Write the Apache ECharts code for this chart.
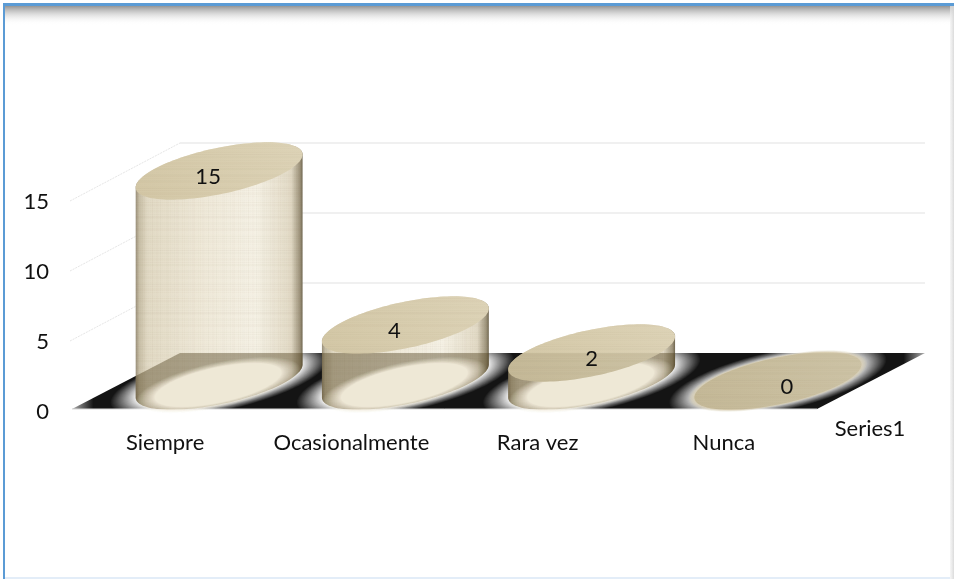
<!DOCTYPE html>
<html><head><meta charset="utf-8">
<style>html,body{margin:0;padding:0;background:#fff}#c{width:954px;height:579px}</style>
<script src="https://cdn.jsdelivr.net/npm/echarts@6/dist/echarts.min.js"></script>
</head><body><div id="c"></div>
<script>
const categories = ['Siempre', 'Ocasionalmente', 'Rara vez', 'Nunca'];
const values = [15, 4, 2, 0];
const yTicks = [0, 5, 10, 15];
const depthLabel = 'Series1';
const labelShift = [-11, -11, 0, 9];

const FONT = 'Lato, Carlito, "Open Sans", sans-serif';
const DEPTH_X = 108, DEPTH_Y = -56, DISC_RATIO = 0.448, DISC_TIP = 16.5, DISC_H = 23.5, FONT_SIZE = 22;

function grainCanvas(vertical) {
  const c = document.createElement('canvas');
  c.width = 96; c.height = 96;
  const g = c.getContext('2d');
  for (let i = 0; i < 96; i += 2) {
    const a = 0.022 + 0.022 * Math.sin(i * 0.73) * Math.sin(i * 0.19);
    g.fillStyle = 'rgba(120,100,60,' + Math.abs(a).toFixed(3) + ')';
    g.fillRect(0, i, 96, 1 + (i % 3 === 0 ? 1 : 0));
    if (vertical) {
      const b = 0.015 + 0.02 * Math.sin(i * 1.1) * Math.sin(i * 0.31);
      g.fillStyle = 'rgba(110,95,60,' + Math.abs(b).toFixed(3) + ')';
      g.fillRect(i, 0, 1 + (i % 5 === 0 ? 1 : 0), 96);
    }
  }
  return c;
}
const weave = grainCanvas(true), grain = grainCanvas(false);

function discPoint(cx, cy, rx, k, s) {
  return [cx + k * rx * Math.cos(s), cy - k * (DISC_TIP * Math.cos(s) + DISC_H * Math.sin(s))];
}
function ellipsePts(cx, cy, rx, k) {
  const pts = [];
  for (let i = 0; i < 120; i++) pts.push(discPoint(cx, cy, rx, k, i / 120 * Math.PI * 2));
  return pts;
}
function silhouette(cx, top, bottom, rx) {
  const pts = [];
  for (let i = 0; i <= 60; i++) pts.push(discPoint(cx, top, rx, 1, i / 60 * Math.PI));
  for (let i = 0; i <= 60; i++) pts.push(discPoint(cx, bottom, rx, 1, Math.PI + i / 60 * Math.PI));
  return pts;
}
function clipConvex(subject, clip) {
  let out = subject;
  for (let i = 0; i < clip.length && out.length; i++) {
    const a = clip[i], b = clip[(i + 1) % clip.length], input = out;
    const side = p => (b[0] - a[0]) * (p[1] - a[1]) - (b[1] - a[1]) * (p[0] - a[0]);
    out = [];
    for (let j = 0; j < input.length; j++) {
      const p = input[j], q = input[(j + 1) % input.length], sp = side(p), sq = side(q);
      if (sp >= 0) out.push(p);
      if ((sp >= 0) !== (sq >= 0)) {
        const u = sp / (sp - sq);
        out.push([p[0] + u * (q[0] - p[0]), p[1] + u * (q[1] - p[1])]);
      }
    }
  }
  return out;
}
function floorOf(params, api) {
  const cs = params.coordSys, y0 = api.coord([0, 0])[1];
  return [[cs.x + DEPTH_X, y0 + DEPTH_Y], [cs.x + cs.width + DEPTH_X, y0 + DEPTH_Y],
          [cs.x + cs.width, y0], [cs.x, y0]];
}
const poly = (pts, style) => ({ type: 'polygon', shape: { points: pts }, style, silent: true });
// Soft-edged disc: nested layers whose opacities add up to an even ramp from kOuter to kInner.
function softDisc(cx, cy, rx, kOuter, kInner, rgb, steps) {
  const out = [];
  for (let j = 0; j <= steps; j++) {
    const k = kOuter + (kInner - kOuter) * j / steps;
    out.push(poly(ellipsePts(cx, cy, rx, k), { fill: 'rgba(' + rgb + ',' + (1 / (steps - j + 1)).toFixed(3) + ')' }));
  }
  return out;
}

function renderStage(params, api) {
  const cs = params.coordSys, children = [], y0 = api.coord([0, 0])[1];
  yTicks.slice(1).forEach(t => {
    const y = api.coord([0, t])[1];
    children.push({ type: 'line', silent: true,
      shape: { x1: cs.x - 2, y1: y + 2, x2: cs.x + DEPTH_X, y2: y + DEPTH_Y },
      style: { stroke: '#e6e6e6', lineWidth: 1, lineDash: [2, 1] } });
    children.push({ type: 'line', silent: true,
      shape: { x1: cs.x + DEPTH_X, y1: y + DEPTH_Y, x2: cs.x + cs.width + DEPTH_X, y2: y + DEPTH_Y },
      style: { stroke: '#f0f0f0', lineWidth: 2 } });
  });
  const f = floorOf(params, api);
  children.push(poly(f, { fill: { type: 'linear', x: 0, y: 0, x2: 1, y2: 0, colorStops: [
    { offset: 0, color: '#b0b0b0' }, { offset: 0.025, color: '#141414' },
    { offset: 0.975, color: '#141414' }, { offset: 1, color: '#b0b0b0' }] } }));
  children.push({ type: 'line', silent: true,
    shape: { x1: cs.x, y1: y0, x2: cs.x + cs.width, y2: y0 },
    style: { stroke: '#d8d8d8', lineWidth: 1 } });
  children.push({ type: 'text', silent: true, style: {
    text: depthLabel, x: cs.x + cs.width + 53, y: y0 + 20, align: 'center', verticalAlign: 'middle',
    fill: '#111', font: FONT_SIZE + 'px ' + FONT } });
  return { type: 'group', children };
}
function renderHalo(params, api) {
  const i = api.value(0), band = api.size([1, 0])[0], rx = band * DISC_RATIO;
  const cx = api.coord([i, 0])[0] + DEPTH_X / 2, cy = api.coord([i, 0])[1] + DEPTH_Y / 2;
  return { type: 'group', children: softDisc(cx, cy, rx, 1.3, 0.98, '255,255,255', 24) };
}
function renderCylinder(params, api) {
  const i = api.value(0), v = api.value(1), band = api.size([1, 0])[0], rx = band * DISC_RATIO;
  const p0 = api.coord([i, 0]), pv = api.coord([i, v]);
  const cx = p0[0] + DEPTH_X / 2, bot = p0[1] + DEPTH_Y / 2, top = pv[1] + DEPTH_Y / 2;
  const floor = floorOf(params, api);
  let children = [];
  if (v > 0) {
    const sil = silhouette(cx, top, bot, rx);
    children.push(poly(sil, { fill: { type: 'linear', x: 0, y: 0, x2: 1, y2: 0, colorStops: [
      { offset: 0, color: '#9a907a' }, { offset: 0.02, color: '#c6bda5' }, { offset: 0.07, color: '#e2dac5' },
      { offset: 0.4, color: '#efe9d9' }, { offset: 0.72, color: '#f5f1e5' }, { offset: 0.93, color: '#e2dac6' },
      { offset: 0.985, color: '#9c927a' }, { offset: 1, color: '#6f6650' }] } }));
    children.push(poly(sil, { fill: { image: weave, repeat: 'repeat' } }));
    const over = clipConvex(sil, floor);
    if (over.length > 2) children.push(poly(over, { fill: 'rgba(70,55,20,0.40)' }));
    children = children.concat(softDisc(cx - 1, bot + 4, rx, 0.98, 0.76, '238,232,214', 18));
  }
  const disc = ellipsePts(cx, top, rx, 1);
  if (v === 0) children = children.concat(softDisc(cx, top, rx, 1.07, 0.98, '208,196,162', 6));
  children.push(poly(disc, { fill: { type: 'linear', x: 0, y: 1, x2: 1, y2: 0, colorStops: [
    { offset: 0, color: '#d3c7a6' }, { offset: 1, color: '#ddd3b7' }] } }));
  children.push(poly(disc, { fill: { image: grain, repeat: 'repeat' } }));
  const discOver = clipConvex(disc, floor);
  if (discOver.length > 2) children.push(poly(discOver, { fill: 'rgba(70,55,20,0.1)' }));
  children.push({ type: 'text', silent: true, style: {
    text: String(v), x: cx + labelShift[i], y: top + 6, align: 'center', verticalAlign: 'middle',
    fill: '#111', font: FONT_SIZE + 'px ' + FONT } });
  return { type: 'group', children };
}

const chart = echarts.init(document.getElementById('c'), null, { renderer: 'canvas' });
const items = values.map((v, i) => [i, v]);
chart.setOption({
  animation: false,
  backgroundColor: '#fff',
  grid: { left: 72, top: 199, width: 745, height: 210 },
  xAxis: { type: 'category', data: categories, axisLine: { show: false }, axisTick: { show: false },
    splitLine: { show: false },
    axisLabel: { color: '#111', fontFamily: FONT, fontSize: FONT_SIZE, margin: 23, interval: 0 } },
  yAxis: { type: 'value', min: 0, max: 15, interval: 5, axisLine: { show: false }, axisTick: { show: false },
    splitLine: { show: false },
    axisLabel: { color: '#111', fontFamily: FONT, fontSize: FONT_SIZE, margin: 23,
      verticalAlign: 'top', lineHeight: 5 } },
  series: [
    { type: 'custom', name: 'stage', z: 1, data: [[0, 0]], renderItem: renderStage, silent: true },
    { type: 'custom', name: 'halo', z: 2, data: items, renderItem: renderHalo, silent: true },
    { type: 'custom', name: 'Series1', z: 3, data: items, encode: { x: 0, y: 1 }, renderItem: renderCylinder }
  ],
  graphic: [
    { type: 'rect', z: 100, silent: true, shape: { x: 5, y: 6, width: 949, height: 19 },
      style: { fill: { type: 'linear', x: 0, y: 0, x2: 0, y2: 1, colorStops: [
        { offset: 0, color: 'rgba(130,130,130,0.85)' }, { offset: 1, color: 'rgba(255,255,255,0)' }] } } },
    { type: 'rect', z: 101, silent: true, shape: { x: 3, y: 3, width: 951, height: 3 }, style: { fill: '#5b9bd5' } },
    { type: 'rect', z: 101, silent: true, shape: { x: 3, y: 3, width: 2, height: 576 }, style: { fill: '#5b9bd5' } },
    { type: 'rect', z: 100, silent: true, shape: { x: 950, y: 6, width: 4, height: 573 },
      style: { fill: { type: 'linear', x: 0, y: 0, x2: 1, y2: 0, colorStops: [
        { offset: 0, color: 'rgba(240,240,240,0.6)' }, { offset: 1, color: 'rgba(215,215,215,0.9)' }] } } },
    { type: 'rect', z: 100, silent: true, shape: { x: 5, y: 577, width: 945, height: 2 }, style: { fill: '#e3edf8' } }
  ]
});
</script></body></html>
